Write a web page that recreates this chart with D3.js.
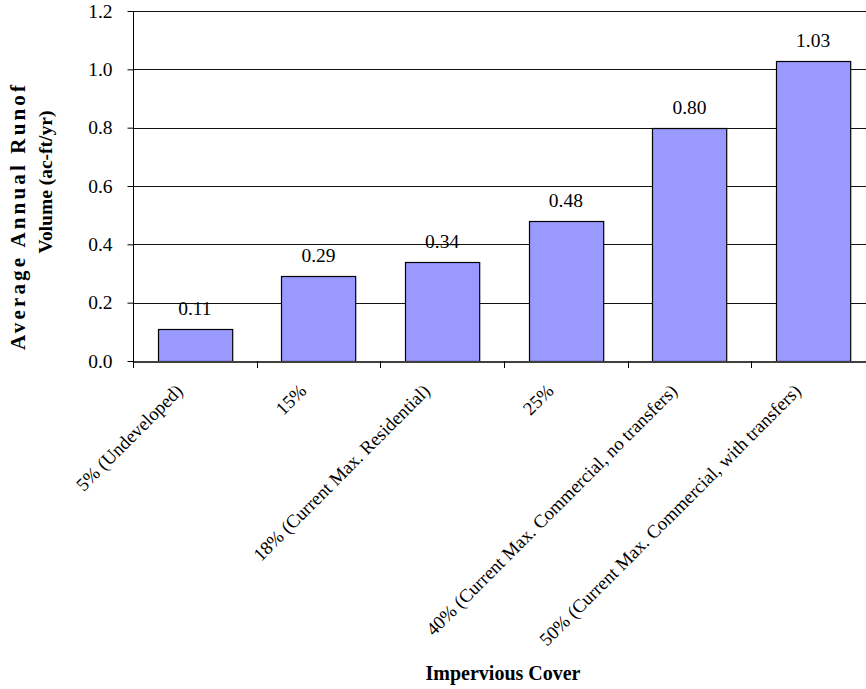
<!DOCTYPE html>
<html>
<head>
<meta charset="utf-8">
<script src="https://cdn.jsdelivr.net/npm/d3@7"></script>
<style>
  html, body { margin: 0; padding: 0; background: #fff; }
  svg { display: block; }
</style>
</head>
<body>
<svg id="chart" width="866" height="689"></svg>
<script>
const categories = [
  "5% (Undeveloped)",
  "15%",
  "18% (Current Max. Residential)",
  "25%",
  "40% (Current Max. Commercial, no transfers)",
  "50% (Current Max. Commercial, with transfers)"
];
const values = [0.11, 0.29, 0.34, 0.48, 0.80, 1.03];
const yTicks = [0, 0.2, 0.4, 0.6, 0.8, 1.0, 1.2];
const yTitleLines = ["Average Annual Runof", "Volume (ac-ft/yr)"];
const xTitle = "Impervious Cover";

const svg = d3.select("#chart");
const W = 866, H = 689;
const plot = { left: 133, right: 875, top: 11, bottom: 361 };
const font = "'Liberation Serif', 'Times New Roman', serif";

svg.append("rect").attr("width", W).attr("height", H).attr("fill", "#fff");

const x = d3.scaleBand()
  .domain(categories)
  .range([plot.left, plot.right])
  .paddingInner(0.4)
  .paddingOuter(0.2);

const y = d3.scaleLinear().domain([0, 1.2]).range([plot.bottom, plot.top]);

// gridlines
svg.append("g")
  .selectAll("line")
  .data(yTicks.filter(d => d > 0))
  .join("line")
  .attr("x1", plot.left).attr("x2", plot.right)
  .attr("y1", d => Math.round(y(d)) + 0.5).attr("y2", d => Math.round(y(d)) + 0.5)
  .attr("stroke", "#111").attr("stroke-width", 1);

// bars
svg.append("g")
  .selectAll("rect")
  .data(values)
  .join("rect")
  .attr("x", (d, i) => Math.round(x(categories[i])) + 0.5)
  .attr("y", d => Math.round(y(d)) + 0.5)
  .attr("width", x.bandwidth())
  .attr("height", d => Math.round(y(0)) - Math.round(y(d)))
  .attr("fill", "#9999FF")
  .attr("stroke", "#000")
  .attr("stroke-width", 1.2);

// value labels
svg.append("g")
  .selectAll("text")
  .data(values)
  .join("text")
  .attr("x", (d, i) => x(categories[i]) + x.bandwidth() / 2)
  .attr("y", d => y(d) - 14)
  .attr("text-anchor", "middle")
  .attr("font-family", font)
  .attr("font-size", 19.5)
  .attr("fill", "#000")
  .text(d => d.toFixed(2));

// y axis
const yAxis = d3.axisLeft(y)
  .tickValues(yTicks)
  .tickFormat(d3.format(".1f"))
  .tickSize(6)
  .tickPadding(15);
const gy = svg.append("g")
  .attr("transform", `translate(${plot.left + 0.5},0)`)
  .call(yAxis);
gy.select(".domain").attr("d", `M0,${plot.top}V${plot.bottom}`).attr("stroke", "#000");
gy.selectAll(".tick line").attr("stroke", "#000");
gy.selectAll(".tick text")
  .attr("font-family", font)
  .attr("font-size", 19.5)
  .attr("fill", "#000");

// x axis line and ticks at band boundaries
const boundaries = categories.map(c => x(c) - x.step() * 0.2);
svg.append("line")
  .attr("x1", plot.left).attr("x2", plot.right)
  .attr("y1", plot.bottom + 1).attr("y2", plot.bottom + 1)
  .attr("stroke", "#404040").attr("stroke-width", 2);
svg.append("g")
  .selectAll("line")
  .data(boundaries)
  .join("line")
  .attr("x1", d => Math.round(d) + 0.5).attr("x2", d => Math.round(d) + 0.5)
  .attr("y1", plot.bottom).attr("y2", plot.bottom + 7)
  .attr("stroke", "#000");

// x tick labels
svg.append("g")
  .selectAll("text")
  .data(categories)
  .join("text")
  .attr("transform", d => `translate(${x(d) + x.bandwidth() / 2 - 11},392) rotate(-45)`)
  .attr("text-anchor", "end")
  .attr("font-family", font)
  .attr("font-size", 18.7)
  .attr("fill", "#000")
  .text(d => d);

// x title
svg.append("text")
  .attr("x", 503).attr("y", 680)
  .attr("text-anchor", "middle")
  .attr("font-family", font)
  .attr("font-size", 20)
  .attr("font-weight", "bold")
  .attr("fill", "#000")
  .text(xTitle);

// y title
svg.append("text")
  .attr("transform", "translate(25,217.5) rotate(-90)")
  .attr("text-anchor", "middle")
  .attr("font-family", font)
  .attr("font-size", 21)
  .attr("font-weight", "bold")
  .attr("textLength", 265)
  .attr("lengthAdjust", "spacing")
  .attr("fill", "#000")
  .text(yTitleLines[0]);
svg.append("text")
  .attr("transform", "translate(52,182) rotate(-90)")
  .attr("text-anchor", "middle")
  .attr("font-family", font)
  .attr("font-size", 19.5)
  .attr("font-weight", "bold")
  .attr("fill", "#000")
  .text(yTitleLines[1]);
</script>
</body>
</html>
